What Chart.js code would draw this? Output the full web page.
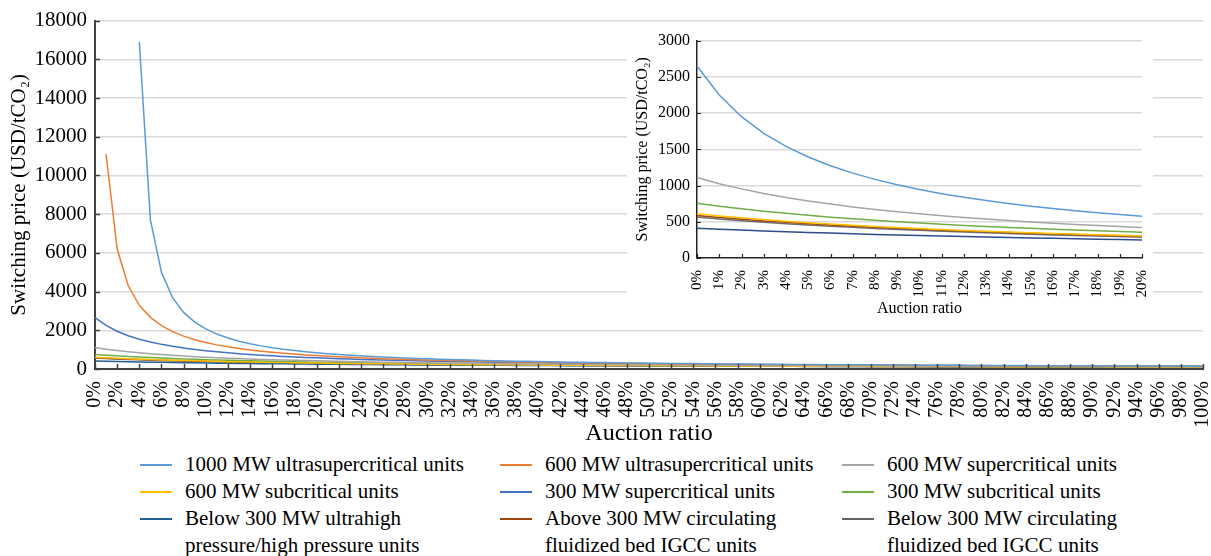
<!DOCTYPE html>
<html>
<head>
<meta charset="utf-8">
<script src="https://cdn.jsdelivr.net/npm/chart.js@4.4.1/dist/chart.umd.min.js"></script>
<style>
  body { margin: 0; background: #fff; font-family: "Liberation Serif", "Times New Roman", serif; }
  #wrap { position: relative; width: 1211px; height: 556px; overflow: hidden; }
  #main { position: absolute; left: 0; top: 0; }
  #inset { position: absolute; left: 627px; top: 24px; background: #fff; }
  .item { position: absolute; height: 27px; font-size: 21px; line-height: 27px; color: #000; white-space: nowrap; }
  .item .sw { position: absolute; left: 0; top: 13px; width: 32px; height: 2px; }
  .item .tx { position: absolute; left: 45px; top: 0; }
</style>
</head>
<body>
<div id="wrap">
  <canvas id="main" width="1211" height="450"></canvas>
  <canvas id="inset" width="526" height="296"></canvas>
  <div id="legend"></div>
</div>
<script>
const auctionRatio = Array.from({ length: 101 }, (_, i) => i + '%');

const seriesNames = [
  '1000 MW ultrasupercritical units',
  '600 MW ultrasupercritical units',
  '600 MW supercritical units',
  '600 MW subcritical units',
  '300 MW supercritical units',
  '300 MW subcritical units',
  'Below 300 MW ultrahigh<br>pressure/high pressure units',
  'Above 300 MW circulating<br>fluidized bed IGCC units',
  'Below 300 MW circulating<br>fluidized bed IGCC units'
];
const seriesColors = ['#5B9BD5', '#ED7D31', '#A5A5A5', '#FFC000', '#4472C4', '#70AD47', '#255E91', '#9E480E', '#636363'];

const usc1000 = [null, null, null, null, 16900, 7700, 4990, 3690, 2924, 2423,
  2069, 1805, 1601, 1438, 1305, 1195, 1102, 1022, 953, 893,
  840, 793, 751, 713, 679, 648, 619, 593, 570, 547,
  527, 508, 491, 474, 459, 444, 431, 418, 406, 395,
  384, 374, 364, 355, 346, 338, 330, 323, 315, 309,
  302, 296, 290, 284, 278, 273, 268, 263, 258, 253,
  249, 245, 240, 236, 233, 229, 225, 222, 218, 215,
  212, 209, 205, 203, 200, 197, 194, 192, 189, 187,
  184, 182, 179, 177, 175, 173, 171, 169, 167, 165,
  163, 161, 159, 157, 156, 154, 152, 151, 149, 148,
  146];
const usc600 = [null, 11100, 6200, 4300, 3293, 2668, 2242, 1933, 1699, 1516,
  1368, 1247, 1145, 1059, 985, 920, 864, 813, 769, 729,
  693, 660, 631, 604, 579, 556, 535, 515, 497, 480,
  464, 449, 435, 422, 410, 398, 387, 377, 367, 358,
  349, 340, 332, 325, 317, 310, 304, 297, 291, 285,
  279, 274, 269, 264, 259, 254, 250, 245, 241, 237,
  233, 229, 226, 222, 219, 215, 212, 209, 206, 203,
  200, 197, 194, 192, 189, 187, 184, 182, 179, 177,
  175, 173, 171, 169, 167, 165, 163, 161, 159, 157,
  156, 154, 152, 151, 149, 147, 146, 144, 143, 141,
  140];
const sc600 = [1110, 1026, 954, 891, 836, 787, 744, 705, 670, 638,
  609, 583, 559, 537, 516, 497, 480, 463, 448, 433,
  420, 407, 395, 384, 374, 364, 354, 345, 336, 328,
  320, 313, 306, 299, 293, 286, 281, 275, 269, 264,
  259, 254, 249, 245, 241, 236, 232, 228, 225, 221,
  217, 214, 211, 207, 204, 201, 198, 195, 193, 190,
  187, 185, 182, 180, 177, 175, 173, 171, 169, 166,
  164, 162, 161, 159, 157, 155, 153, 152, 150, 148,
  147, 145, 144, 142, 141, 139, 138, 136, 135, 134,
  132, 131, 130, 128, 127, 126, 125, 124, 123, 122,
  120];
const sub600 = [610, 581, 555, 530, 508, 488, 469, 452, 436, 421,
  407, 394, 381, 370, 359, 349, 339, 330, 321, 313,
  305, 298, 290, 284, 277, 271, 265, 260, 254, 249,
  244, 239, 235, 230, 226, 222, 218, 214, 210, 207,
  203, 200, 197, 194, 191, 188, 185, 182, 179, 177,
  174, 172, 169, 167, 165, 163, 161, 158, 156, 154,
  153, 151, 149, 147, 145, 144, 142, 140, 139, 137,
  136, 134, 133, 131, 130, 128, 127, 126, 124, 123,
  122, 121, 120, 118, 117, 116, 115, 114, 113, 112,
  111, 110, 109, 108, 107, 106, 105, 104, 103, 103,
  102];
const sc300 = [2650, 2250, 1950, 1720, 1540, 1394, 1273, 1171, 1085, 1010,
  945, 888, 837, 792, 752, 715, 682, 652, 624, 599,
  575, 553, 533, 515, 497, 481, 466, 451, 438, 425,
  413, 402, 391, 381, 372, 362, 354, 345, 337, 330,
  323, 316, 309, 303, 297, 291, 285, 280, 274, 269,
  264, 260, 255, 251, 247, 243, 239, 235, 231, 228,
  224, 221, 218, 214, 211, 208, 205, 203, 200, 197,
  194, 192, 189, 187, 185, 182, 180, 178, 176, 174,
  172, 170, 168, 166, 164, 162, 160, 159, 157, 155,
  154, 152, 151, 149, 148, 146, 145, 143, 142, 141,
  139];
const sub300 = [755, 715, 679, 646, 616, 589, 564, 541, 520, 501,
  483, 466, 450, 436, 422, 409, 397, 386, 375, 365,
  355, 346, 337, 329, 321, 313, 306, 299, 293, 287,
  281, 275, 269, 264, 259, 254, 249, 245, 240, 236,
  232, 228, 224, 221, 217, 214, 210, 207, 204, 201,
  198, 195, 192, 189, 187, 184, 182, 179, 177, 175,
  172, 170, 168, 166, 164, 162, 160, 158, 156, 154,
  153, 151, 149, 148, 146, 144, 143, 141, 140, 139,
  137, 136, 134, 133, 132, 130, 129, 128, 127, 126,
  124, 123, 122, 121, 120, 119, 118, 117, 116, 115,
  114];
const below300uh = [410, 397, 385, 374, 363, 353, 344, 335, 326, 318,
  311, 303, 296, 290, 283, 277, 271, 266, 260, 255,
  250, 245, 241, 236, 232, 228, 224, 220, 216, 213,
  209, 206, 203, 199, 196, 193, 191, 188, 185, 182,
  180, 177, 175, 173, 170, 168, 166, 164, 162, 160,
  158, 156, 154, 152, 150, 149, 147, 145, 144, 142,
  140, 139, 137, 136, 135, 133, 132, 130, 129, 128,
  127, 125, 124, 123, 122, 121, 120, 118, 117, 116,
  115, 114, 113, 112, 111, 110, 109, 108, 107, 107,
  106, 105, 104, 103, 102, 101, 101, 100, 99, 98,
  98];
const above300cfb = [585, 559, 534, 512, 492, 473, 455, 439, 424, 410,
  397, 384, 373, 362, 351, 342, 332, 324, 315, 308,
  300, 293, 286, 280, 273, 267, 262, 256, 251, 246,
  241, 237, 232, 228, 224, 220, 216, 212, 209, 205,
  202, 198, 195, 192, 189, 186, 184, 181, 178, 176,
  173, 171, 169, 166, 164, 162, 160, 158, 156, 154,
  152, 150, 148, 147, 145, 143, 141, 140, 138, 137,
  135, 134, 132, 131, 130, 128, 127, 126, 124, 123,
  122, 121, 120, 118, 117, 116, 115, 114, 113, 112,
  111, 110, 109, 108, 107, 106, 105, 104, 103, 103,
  102];
const below300cfb = [565, 539, 515, 494, 474, 455, 438, 423, 408, 394,
  382, 370, 358, 348, 338, 328, 319, 311, 303, 295,
  288, 281, 275, 268, 262, 257, 251, 246, 241, 236,
  231, 227, 223, 218, 214, 211, 207, 203, 200, 197,
  193, 190, 187, 184, 181, 179, 176, 173, 171, 168,
  166, 164, 161, 159, 157, 155, 153, 151, 149, 147,
  145, 144, 142, 140, 139, 137, 135, 134, 132, 131,
  129, 128, 127, 125, 124, 123, 121, 120, 119, 118,
  117, 115, 114, 113, 112, 111, 110, 109, 108, 107,
  106, 105, 104, 103, 103, 101, 101, 100, 99, 98,
  97];

const allSeries = [usc1000, usc600, sc600, sub600, sc300, sub300, below300uh, above300cfb, below300cfb];

// inset: first 21 points (0%-20%)
const insetSeries = [sc300, sc600, sub300, sub600, above300cfb, below300cfb, below300uh];
const insetColors = ['#5B9BD5', '#A5A5A5', '#70AD47', '#FFC000', '#9E480E', '#6F6F6F', '#2E4C8A'];

const serif = '"Liberation Serif", "Times New Roman", serif';
const yTitle = 'Switching price (USD/tCO\u2082)';

const innerTicks = {
  id: 'innerTicks',
  afterDraw(chart, args, opts) {
    const { ctx, chartArea, scales: { x, y } } = chart;
    ctx.save();
    ctx.strokeStyle = opts.color;
    ctx.lineWidth = opts.width;
    ctx.beginPath();
    x.ticks.forEach((t, i) => {
      if (i % opts.xEvery) return;
      const px = Math.round(x.getPixelForTick(i)) + 0.5;
      ctx.moveTo(px, chartArea.bottom);
      ctx.lineTo(px, chartArea.bottom - opts.len);
    });
    y.ticks.forEach((t, i) => {
      const py = Math.round(y.getPixelForTick(i)) + 0.5;
      ctx.moveTo(chartArea.left, py);
      ctx.lineTo(chartArea.left + opts.len, py);
    });
    ctx.stroke();
    ctx.restore();
  }
};

const gridColor = c => (c.tick && c.tick.value === 0 ? 'rgba(0,0,0,0)' : '#D9D9D9');

new Chart(document.getElementById('main'), {
  type: 'line',
  data: {
    labels: auctionRatio,
    datasets: allSeries.map((d, i) => ({
      label: seriesNames[i],
      data: d,
      borderColor: seriesColors[i],
      borderWidth: 1.5,
      pointRadius: 0,
      tension: 0
    }))
  },
  options: {
    responsive: false,
    animation: false,
    layout: { padding: { top: 17, right: 8, left: 0, bottom: 0 } },
    plugins: {
      legend: { display: false },
      tooltip: { enabled: false },
      innerTicks: { color: '#404040', width: 1.5, len: 5, xEvery: 2 }
    },
    scales: {
      x: {
        offset: false,
        grid: { display: false },
        border: { color: '#404040', width: 2 },
        ticks: {
          autoSkip: false, maxRotation: 90, minRotation: 90, padding: 4,
          color: '#000', font: { family: serif, size: 20 },
          callback: function (v, i) { return i % 2 === 0 ? this.getLabelForValue(v) : ''; }
        },
        title: { display: true, text: 'Auction ratio', color: '#000', font: { family: serif, size: 24 }, padding: { top: 0, bottom: 2 } },
        afterFit: s => { s.height = 81; s.paddingRight = 0; s.paddingLeft = 0; }
      },
      y: {
        min: 0, max: 18000,
        grid: { color: gridColor, lineWidth: 1.5, drawTicks: false },
        border: { color: '#404040', width: 2 },
        ticks: { stepSize: 2000, padding: 8, color: '#000', font: { family: serif, size: 21 }, callback: v => String(v) },
        title: { display: true, text: yTitle, color: '#000', font: { family: serif, size: 21 }, padding: { top: 7, bottom: 0 } },
        afterFit: s => { s.width = 95; }
      }
    }
  },
  plugins: [innerTicks]
});

new Chart(document.getElementById('inset'), {
  type: 'line',
  data: {
    labels: auctionRatio.slice(0, 21),
    datasets: insetSeries.map((d, i) => ({
      data: d.slice(0, 21),
      borderColor: insetColors[i],
      borderWidth: 1.5,
      pointRadius: 0,
      tension: 0
    }))
  },
  options: {
    responsive: false,
    animation: false,
    layout: { padding: { top: 16, right: 11, left: 0, bottom: 0 } },
    plugins: {
      legend: { display: false },
      tooltip: { enabled: false },
      innerTicks: { color: '#222', width: 1.2, len: 4, xEvery: 1 }
    },
    scales: {
      x: {
        offset: false,
        grid: { display: false },
        border: { color: '#222', width: 1.5 },
        ticks: {
          autoSkip: false, maxRotation: 90, minRotation: 90, padding: 4,
          color: '#000', font: { family: serif, size: 15 }
        },
        title: { display: true, text: 'Auction ratio', color: '#000', font: { family: serif, size: 16 }, padding: { top: 0, bottom: 2 } },
        afterFit: s => { s.height = 62; s.paddingRight = 0; s.paddingLeft = 0; }
      },
      y: {
        min: 0, max: 3000,
        grid: { color: gridColor, lineWidth: 1.5, drawTicks: false },
        border: { color: '#222', width: 1.5 },
        ticks: { stepSize: 500, padding: 7, color: '#000', font: { family: serif, size: 16 }, callback: v => String(v) },
        title: { display: true, text: yTitle, color: '#000', font: { family: serif, size: 16 }, padding: { top: 6, bottom: 0 } },
        afterFit: s => { s.width = 70; }
      }
    }
  },
  plugins: [innerTicks]
});

// legend, 3 columns
const legendCols = [140, 500, 842];
const legendRows = [464, 491, 518];
const legend = document.getElementById('legend');
seriesNames.forEach((name, i) => {
  const el = document.createElement('div');
  el.className = 'item';
  el.style.left = legendCols[i % 3] + 'px';
  el.style.top = (legendRows[Math.floor(i / 3)] - 13.5) + 'px';
  el.innerHTML = '<span class="sw" style="background:' + seriesColors[i] + '"></span><span class="tx">' + name + '</span>';
  legend.appendChild(el);
});
</script>
</body>
</html>
